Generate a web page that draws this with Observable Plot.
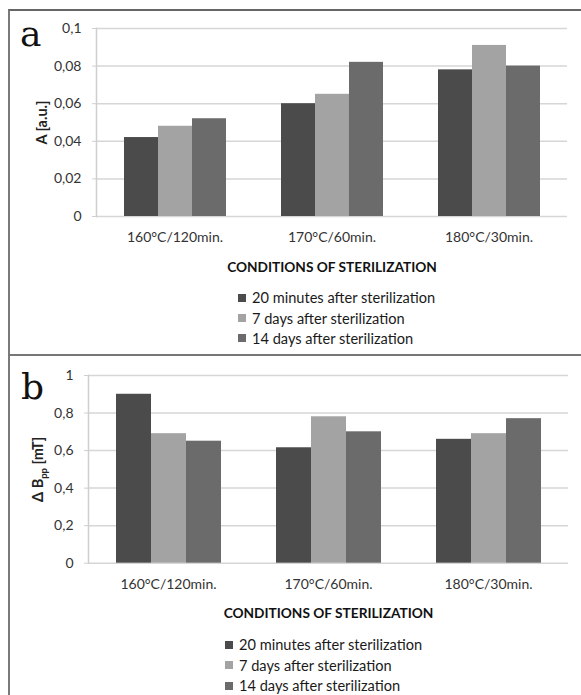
<!DOCTYPE html>
<html><head><meta charset="utf-8">
<script src="https://cdn.jsdelivr.net/npm/d3@7"></script>
<script src="https://cdn.jsdelivr.net/npm/@observablehq/plot@0.6"></script>
<style>
body{margin:0;background:#fff;}
#page{position:relative;width:581px;height:695px;overflow:hidden;font-family:Lato,sans-serif;background:#fff;}
.border{position:absolute;left:8px;top:9px;right:0;bottom:-5px;border-left:2px solid #7a7a7a;border-top:2px solid #666;}
.sep{position:absolute;left:8px;right:0;top:354px;height:2px;background:#777;}
.panel{position:absolute;left:0;width:581px;}
.letter{position:absolute;font-family:"DejaVu Serif",serif;font-size:36px;color:#111;line-height:36px;}
.legend{position:absolute;font-size:14.6px;color:#1a1a1a;font-family:Lato,sans-serif;}
.legend div{height:20.3px;display:flex;align-items:center;white-space:nowrap;}
.legend span.sw{display:inline-block;width:8px;height:8px;margin-right:6px;}
</style></head>
<body>
<div id="page">
  <div class="border"></div>
  <div class="sep"></div>
  <div id="pa" class="panel" style="top:0"></div>
  <div id="pb" class="panel" style="top:355px"></div>
  <div class="letter" style="left:20px;top:16px">a</div>
  <div class="letter" style="left:21px;top:369px">b</div>
  <div id="la" class="legend" style="left:238px;top:287.6px"></div>
  <div id="lb" class="legend" style="left:225px;top:634.8px"></div>
</div>
<script>
const categories = ["160°C/120min.", "170°C/60min.", "180°C/30min."];
const series = ["20 minutes after sterilization", "7 days after sterilization", "14 days after sterilization"];
const colors = ["#4b4b4b", "#a3a3a3", "#6b6b6b"];
const xTitle = "CONDITIONS OF STERILIZATION";

// panel a: A [a.u.]
const a20min = [0.042, 0.060, 0.078];
const a7days = [0.048, 0.065, 0.091];
const a14days = [0.052, 0.082, 0.080];
const aTicks = [0, 0.02, 0.04, 0.06, 0.08, 0.1];

// panel b: ΔBpp [mT]
const b20min = [0.90, 0.615, 0.66];
const b7days = [0.69, 0.78, 0.69];
const b14days = [0.65, 0.70, 0.77];
const bTicks = [0, 0.2, 0.4, 0.6, 0.8, 1];

function table(vals) {
  return categories.flatMap((c, i) => series.map((s, j) => ({cat: c, series: s, value: vals[j][i]})));
}
const fmt = d => String(d).replace(".", ",");

function chart({data, ticks, height, marginTop, marginBottom, marginLeft, yMax, yLabel, labelOffset}) {
  return Plot.plot({
    width: 581, height, marginTop, marginBottom, marginLeft, marginRight: 13,
    style: {fontFamily: "Lato, sans-serif", fontSize: "14px", color: "#333", background: "transparent", overflow: "visible"},
    fx: {domain: categories, padding: 0},
    x: {domain: series, paddingInner: 0, paddingOuter: 0.76, axis: null},
    y: {domain: [0, yMax]},
    color: {domain: series, range: colors},
    marks: [
      Plot.gridY(ticks, {stroke: "#d6d6d6", strokeOpacity: 1, strokeWidth: 1.5}),
      Plot.frame({anchor: "left", stroke: "#cfcfcf", strokeWidth: 1.5, facetAnchor: "left"}),
      Plot.barY(data, {fx: "cat", x: "series", y: "value", fill: "series"}),
      Plot.axisY(ticks, {tickSize: 4, tickPadding: 11, tickFormat: fmt, stroke: "#cfcfcf", fill: "#333",
        label: yLabel, labelArrow: "none", labelAnchor: "center", labelOffset}),
      Plot.axisFx({anchor: "bottom", tickSize: 0, tickPadding: 16, fill: "#333",
        label: xTitle, labelArrow: "none", labelAnchor: "center", labelOffset: 55})
    ]
  });
}

function styleLabels(svg) {
  d3.select(svg).select('g[aria-label="fx-axis label"] text')
    .style("font-size", "13.7px").style("font-weight", "bold").attr("fill", "#111");
  return d3.select(svg).select('g[aria-label="y-axis label"] text')
    .style("font-size", "14.5px").style("font-weight", "bold").attr("fill", "#222");
}

const svgA = chart({data: table([a20min, a7days, a14days]), ticks: aTicks, height: 285,
  marginTop: 28, marginBottom: 69, marginLeft: 95, yMax: 0.1, yLabel: "A [a.u.]", labelOffset: 60});
document.getElementById("pa").append(svgA);
styleLabels(svgA).text("A [a.u.]");

const svgB = chart({data: table([b20min, b7days, b14days]), ticks: bTicks, height: 275,
  marginTop: 20, marginBottom: 67.3, marginLeft: 87, yMax: 1, yLabel: "Δ Bpp [mT]", labelOffset: 56});
document.getElementById("pb").append(svgB);

// subscript for ΔBpp
const lab = styleLabels(svgB);
lab.text(null);
lab.append("tspan").text("Δ B");
lab.append("tspan").attr("dy", 4).style("font-size", "9.5px").text("pp");
lab.append("tspan").attr("dy", -4).text(" [mT]");

function legend(el) {
  const L = d3.select(el);
  series.forEach((s, i) => {
    const row = L.append("div");
    row.append("span").attr("class", "sw").style("background", colors[i]);
    row.append("span").text(s);
  });
}
legend("#la");
legend("#lb");
</script>
</body></html>
